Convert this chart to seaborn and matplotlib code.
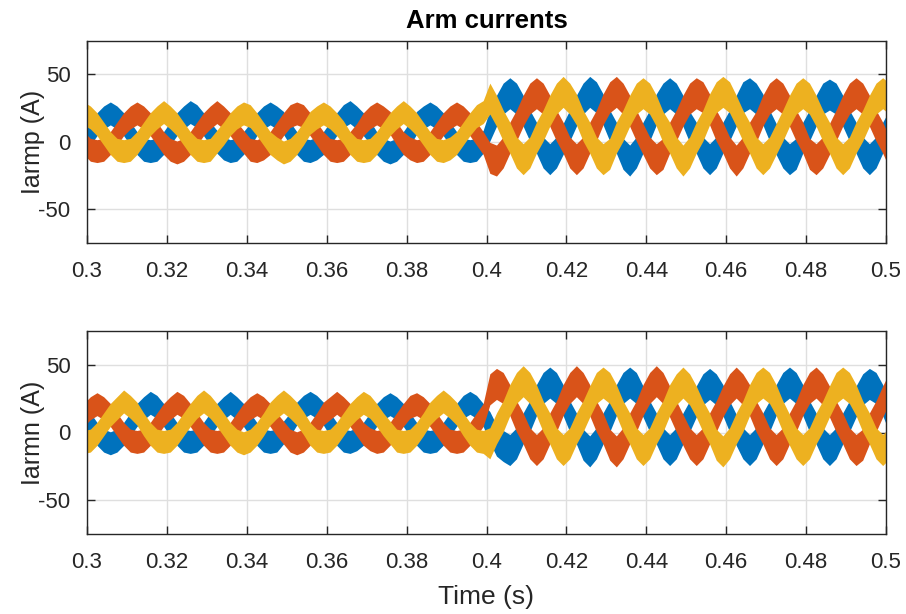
import numpy as np
import pandas as pd
import matplotlib
matplotlib.use("Agg")
import matplotlib.pyplot as plt
import seaborn as sns

# ---------------- data ----------------
# common sampling grid, 12 samples per 50 Hz period
N_SAMPLES = 122
T_START = 0.29917
T_STEP = 0.02 / 12
TIME = np.round(T_START + T_STEP * np.arange(N_SAMPLES), 5)

# upper arm currents (A), centre of each noisy trace
IARMP_A = [-1, 6, 13, 18,
           21, 18, 13, 6, -1, -6, -7, -6, -1, 6, 13, 18,
           22, 19, 13, 6, 0, -5, -7, -6, -1, 5, 13, 18,
           21, 18, 14, 6, -1, -6, -7, -5, -1, 6, 13, 19,
           22, 18, 13, 7, -1, -6, -8, -6, -1, 6, 14, 18,
           21, 18, 13, 6, -1, -6, -7, -6, 0, 12, 23, 32,
           36, 32, 23, 12, 3, -8, -13, -8, 2, 12, 23, 32,
           37, 33, 24, 12, 3, -9, -14, -8, 3, 12, 24, 32,
           36, 32, 23, 11, 3, -8, -13, -8, 3, 12, 23, 33,
           36, 32, 24, 12, 2, -8, -13, -9, 3, 12, 23, 32,
           35, 32, 23, 12, 3, -8, -13, -8, 3, 12]
IARMP_B = [-1, -6, -7, -6, -1, 6, 13, 18,
           21, 18, 13, 6, -1, -6, -8, -6, -1, 6, 13, 18,
           22, 18, 13, 6, 0, -6, -7, -5, -1, 6, 13, 19,
           21, 19, 13, 6, -1, -6, -7, -6, -1, 5, 13, 18,
           21, 18, 14, 6, -1, -5, -7, -6, -1, 6, 13, 18,
           21, 18, 13, 6, -1, -12, -14, -8, 3, 12, 23, 32,
           36, 32, 23, 12, 3, -8, -13, -8, 3, 12, 24, 33,
           37, 32, 23, 12, 2, -8, -13, -9, 3, 12, 23, 32,
           36, 33, 24, 12, 3, -8, -14, -8, 3, 11, 23, 32,
           36, 32, 23, 12, 3, -9, -13, -8, 2, 12, 23, 32,
           36, 32, 23, 12, 3, -8]
IARMP_C = [21, 18, 13, 6, -1, -6, -7, -6, -1, 6, 13, 18,
           22, 18, 13, 6, -1, -6, -7, -6, 0, 6, 13, 18,
           21, 19, 13, 6, -1, -5, -8, -6, -1, 6, 14, 18,
           21, 18, 13, 7, -1, -6, -7, -6, -1, 6, 13, 18,
           22, 18, 13, 6, -1, -6, -7, -5, -1, 6, 13, 19,
           22, 32, 23, 12, 3, -8, -13, -8, 3, 12, 23, 32,
           37, 32, 24, 12, 3, -8, -13, -9, 3, 12, 23, 32,
           36, 32, 23, 11, 3, -8, -14, -8, 3, 12, 24, 33,
           37, 33, 23, 12, 3, -8, -13, -8, 2, 12, 23, 32,
           36, 32, 23, 12, 3, -8, -13, -8, 3, 12, 23, 32,
           36, 32]

# lower arm currents (A)
IARMN_A = [13, 6, -1, -6, -8, -6, -1, 6, 13, 18,
           22, 19, 13, 6, -1, -6, -7, -6, -1, 6, 13, 18,
           22, 18, 13, 6, -1, -6, -7, -6, 0, 6, 14, 19,
           22, 19, 14, 6, -1, -6, -7, -5, -1, 6, 13, 18,
           21, 18, 13, 6, -1, -6, -7, -6, -1, 6, 13, 19,
           22, 19, 13, 4, -6, -10, -13, -8, 3, 12, 24, 33,
           37, 33, 24, 12, 3, -9, -14, -8, 3, 12, 24, 33,
           37, 33, 23, 12, 3, -8, -13, -8, 3, 12, 23, 32,
           36, 32, 24, 12, 2, -8, -13, -8, 3, 12, 24, 33,
           37, 33, 24, 12, 3, -8, -13, -8, 3, 12, 23, 32,
           36, 33, 24, 12]
IARMN_B = [13, 18,
           21, 18, 13, 6, -1, -6, -7, -6, -1, 6, 13, 18,
           22, 19, 13, 6, -1, -6, -7, -6, -1, 6, 13, 18,
           21, 18, 13, 6, 0, -6, -8, -6, -1, 6, 14, 18,
           22, 18, 13, 6, -1, -5, -7, -6, -1, 6, 13, 19,
           21, 18, 13, 6, -1, -6, -7, -6, -1, 6, 13, 32,
           36, 33, 24, 12, 3, -8, -13, -8, 3, 12, 24, 33,
           38, 33, 24, 12, 3, -9, -14, -8, 3, 12, 24, 33,
           38, 33, 23, 12, 2, -8, -13, -8, 3, 12, 23, 32,
           37, 32, 24, 12, 3, -8, -13, -8, 3, 12, 24, 33,
           37, 32, 23, 12, 3, -8, -13, -9, 3, 12, 23, 33]
IARMN_C = [-7, -6, -1, 6, 13, 18,
           23, 19, 14, 6, -1, -6, -7, -6, -1, 6, 13, 19,
           23, 19, 13, 6, -1, -6, -8, -6, -1, 6, 14, 19,
           23, 19, 14, 7, -1, -6, -7, -6, -1, 6, 13, 18,
           22, 19, 13, 6, 0, -6, -7, -6, -1, 6, 14, 19,
           23, 19, 14, 6, -1, -6, -7, -8, 3, 12, 24, 33,
           38, 33, 24, 12, 3, -8, -13, -8, 3, 12, 23, 33,
           37, 33, 24, 12, 3, -8, -13, -8, 3, 12, 24, 32,
           37, 32, 23, 12, 3, -9, -14, -8, 3, 12, 24, 33,
           37, 33, 24, 12, 2, -8, -13, -8, 3, 12, 23, 33,
           37, 33, 24, 12, 3, -8, -13, -8]

PHASES = ["a", "b", "c"]
X_TICKS = [0.3, 0.32, 0.34, 0.36, 0.38, 0.4, 0.42, 0.44, 0.46, 0.48, 0.5]
X_TICK_LABELS = ["0.3", "0.32", "0.34", "0.36", "0.38", "0.4", "0.42", "0.44",
                 "0.46", "0.48", "0.5"]
Y_TICKS = [-50, 0, 50]
TITLE = "Arm currents"
Y_LABELS = ["Iarmp (A)", "Iarmn (A)"]
X_LABEL = "Time (s)"

# ---------------- style ----------------
COLORS = ["#0072BD", "#D95319", "#EDB120"]
AX_COLOR = "#262626"
STEP_TIME = 0.4
BAND_PRE = 8.5     # visual half-thickness of the switching ripple band
BAND_POST = 11.5

sns.set_theme(style="white")
plt.rcParams["font.family"] = ["Liberation Sans", "DejaVu Sans"]

fig = plt.figure(figsize=(9.06, 6.14), dpi=100)
W, H = 906, 614
ax_top = fig.add_axes([87 / W, 1 - 242.7 / H, 799 / W, 202 / H])
ax_bot = fig.add_axes([87 / W, 1 - 533.7 / H, 799 / W, 202.4 / H])

panels = [
    (ax_top, [IARMP_A, IARMP_B, IARMP_C], Y_LABELS[0]),
    (ax_bot, [IARMN_A, IARMN_B, IARMN_C], Y_LABELS[1]),
]

t = np.asarray(TIME)
band = np.where(t < STEP_TIME, BAND_PRE, BAND_POST)

for ax, series, ylab in panels:
    df = pd.DataFrame({
        "time": np.tile(t, 3),
        "current": np.concatenate([np.asarray(s, float) for s in series]),
        "phase": np.repeat(PHASES, len(t)),
    })
    for i, ph in enumerate(PHASES):
        sub = df[df["phase"] == ph]
        y = sub["current"].to_numpy()
        ax.fill_between(sub["time"], y - band, y + band, color=COLORS[i],
                        lw=0, zorder=2 + i)
        sns.lineplot(data=sub, x="time", y="current", ax=ax, color=COLORS[i],
                     lw=1.5, zorder=2 + i, legend=False, estimator=None)

    ax.set_xlim(0.3, 0.5)
    ax.set_ylim(-75, 75)
    ax.set_xticks(X_TICKS)
    ax.set_xticklabels(X_TICK_LABELS)
    ax.set_yticks(Y_TICKS)
    ax.set_yticklabels([str(v) for v in Y_TICKS])
    ax.grid(True, color="#dfdfdf", lw=1.0, zorder=0)
    ax.set_axisbelow(True)
    for sp in ax.spines.values():
        sp.set_visible(True)
        sp.set_color(AX_COLOR)
        sp.set_linewidth(1.0)
        sp.set_zorder(10)
    ax.tick_params(axis="both", which="both", direction="in", length=6,
                   width=1.0, color=AX_COLOR, labelcolor=AX_COLOR,
                   labelsize=16, top=True, right=True, bottom=True, left=True)
    ax.tick_params(axis="x", pad=13)
    ax.tick_params(axis="y", pad=12)
    ax.set_ylabel(ylab, fontsize=18, color=AX_COLOR)
    ax.yaxis.set_label_coords(-0.052, 0.5)
    ax.set_xlabel("")

ax_top.set_title(TITLE, fontsize=18.5, fontweight="bold", color="black", pad=9)
ax_bot.set_xlabel(X_LABEL, fontsize=19, color=AX_COLOR)
ax_bot.xaxis.set_label_coords(0.5, -0.255)

fig.savefig("out.png", dpi=100)
